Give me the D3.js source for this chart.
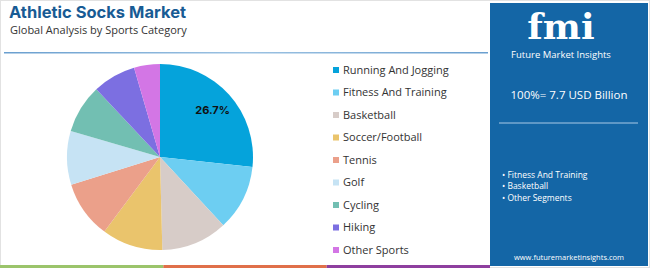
<!DOCTYPE html>
<html lang="en">
  <head>
    <meta charset="UTF-8" />
    <title>Athletic Socks Market</title>
    <script src="https://d3js.org/d3.v7.min.js"></script>
    <style>
      html,
      body {
        margin: 0;
        padding: 0;
        background-color: #fff;
        font-family: "Open Sans", sans-serif;
      }
    </style>
  </head>
  <body>
    <svg id="chart"></svg>
    <script>
      // data
      const categories = [
        "Running And Jogging",
        "Fitness And Training",
        "Basketball",
        "Soccer/Football",
        "Tennis",
        "Golf",
        "Cycling",
        "Hiking",
        "Other Sports",
      ];
      const shares = [26.7, 11.4, 11.5, 10.6, 10.0, 9.3, 8.5, 7.5, 4.5];
      const colors = [
        "#05a3db",
        "#6dcef2",
        "#d7ccc8",
        "#eac46c",
        "#eba08a",
        "#c6e3f4",
        "#72bfb2",
        "#7c6fe1",
        "#d376e5",
      ];
      const panelBullets = ["Fitness And Training", "Basketball", "Other Segments"];

      const width = 650;
      const height = 268;

      const svg = d3.select("#chart").attr("width", width).attr("height", height);

      // frame
      svg
        .append("rect")
        .attr("x", 0.5)
        .attr("y", 0.5)
        .attr("width", width - 1)
        .attr("height", height - 1)
        .attr("fill", "none")
        .attr("stroke", "#e2e2e2");

      // titles
      svg
        .append("text")
        .attr("x", 9)
        .attr("y", 18)
        .attr("font-family", "Inter, sans-serif")
        .attr("font-size", "16.5px")
        .attr("font-weight", "bold")
        .attr("fill", "#185b94")
        .text("Athletic Socks Market");

      svg
        .append("text")
        .attr("x", 10)
        .attr("y", 34)
        .attr("font-size", "11px")
        .attr("fill", "#333")
        .text("Global Analysis by Sports Category");

      // separator under title
      const sepGrad = svg
        .append("defs")
        .append("linearGradient")
        .attr("id", "sep");
      sepGrad.append("stop").attr("offset", "0%").attr("stop-color", "#6a9fcf");
      sepGrad.append("stop").attr("offset", "50%").attr("stop-color", "#9cc2e2");
      sepGrad.append("stop").attr("offset", "100%").attr("stop-color", "#6a9fcf");
      svg
        .append("rect")
        .attr("x", 4)
        .attr("y", 52)
        .attr("width", 484)
        .attr("height", 1.5)
        .attr("fill", "url(#sep)");

      // pie
      const cx = 160,
        cy = 157,
        r = 93;
      const pie = d3.pie().sort(null).value((d) => d);
      const arcs = pie(shares);
      const arc = d3.arc().innerRadius(0).outerRadius(r);
      const labelArc = d3.arc().innerRadius(r * 0.76).outerRadius(r * 0.76);

      const g = svg.append("g").attr("transform", `translate(${cx},${cy})`);
      g.selectAll("path")
        .data(arcs)
        .enter()
        .append("path")
        .attr("d", arc)
        .attr("fill", (d, i) => colors[i]);

      g.append("text")
        .attr("transform", `translate(${labelArc.centroid(arcs[0])})`)
        .attr("text-anchor", "middle")
        .attr("dy", "0.35em")
        .attr("font-family", "Inter, sans-serif")
        .attr("font-size", "11px")
        .attr("font-weight", "bold")
        .attr("fill", "#111")
        .text(shares[0].toFixed(1) + "%");

      // legend
      const ly = d3
        .scalePoint()
        .domain(categories)
        .range([70, 250]);
      const legend = svg
        .selectAll(".legend")
        .data(categories)
        .enter()
        .append("g")
        .attr("transform", (d) => `translate(333,${ly(d)})`);
      legend
        .append("rect")
        .attr("x", 0)
        .attr("y", -3)
        .attr("width", 6)
        .attr("height", 6)
        .attr("fill", (d, i) => colors[i]);
      legend
        .append("text")
        .attr("x", 10)
        .attr("dy", "0.35em")
        .attr("font-size", "11px")
        .attr("fill", "#333")
        .text((d) => d);

      // right panel
      const panel = svg.append("g");
      panel
        .append("rect")
        .attr("x", 490)
        .attr("y", 3)
        .attr("width", 158)
        .attr("height", 263)
        .attr("fill", "#1466a6");

      panel
        .append("text")
        .attr("x", 561)
        .attr("y", 39)
        .attr("text-anchor", "middle")
        .attr("font-family", "DejaVu Serif, serif")
        .attr("font-size", "36px")
        .attr("font-weight", "bold")
        .attr("fill", "#fff")
        .text("fmi");
      panel
        .append("text")
        .attr("x", 561)
        .attr("y", 58)
        .attr("text-anchor", "middle")
        .attr("font-size", "9.5px")
        .attr("fill", "#fff")
        .text("Future Market Insights");

      panel
        .append("text")
        .attr("x", 569)
        .attr("y", 99)
        .attr("text-anchor", "middle")
        .attr("font-size", "11.5px")
        .attr("fill", "#fff")
        .text("100%= 7.7 USD Billion");

      panel
        .append("line")
        .attr("x1", 499)
        .attr("x2", 638)
        .attr("y1", 123)
        .attr("y2", 123)
        .attr("stroke", "#a9c9e6")
        .attr("stroke-width", 1);

      const by = d3.scalePoint().domain(panelBullets).range([175, 198]);
      panel
        .selectAll(".bullet")
        .data(panelBullets)
        .enter()
        .append("text")
        .attr("x", 502)
        .attr("y", (d) => by(d))
        .attr("dy", "0.35em")
        .attr("font-size", "8.5px")
        .attr("fill", "#fff")
        .text((d) => "\u2022 " + d);

      panel
        .append("text")
        .attr("x", 569)
        .attr("y", 260)
        .attr("text-anchor", "middle")
        .attr("font-size", "7.5px")
        .attr("fill", "#fff")
        .text("www.futuremarketinsights.com");

      // bottom colour strip
      const strip = ["#9bc46b", "#e0704a", "#8e3f9f"];
      const sx = d3.scaleBand().domain(d3.range(strip.length)).range([0, 490]);
      svg
        .selectAll(".strip")
        .data(strip)
        .enter()
        .append("rect")
        .attr("x", (d, i) => sx(i))
        .attr("y", 265)
        .attr("width", sx.bandwidth())
        .attr("height", 3)
        .attr("fill", (d) => d);
    </script>
  </body>
</html>
